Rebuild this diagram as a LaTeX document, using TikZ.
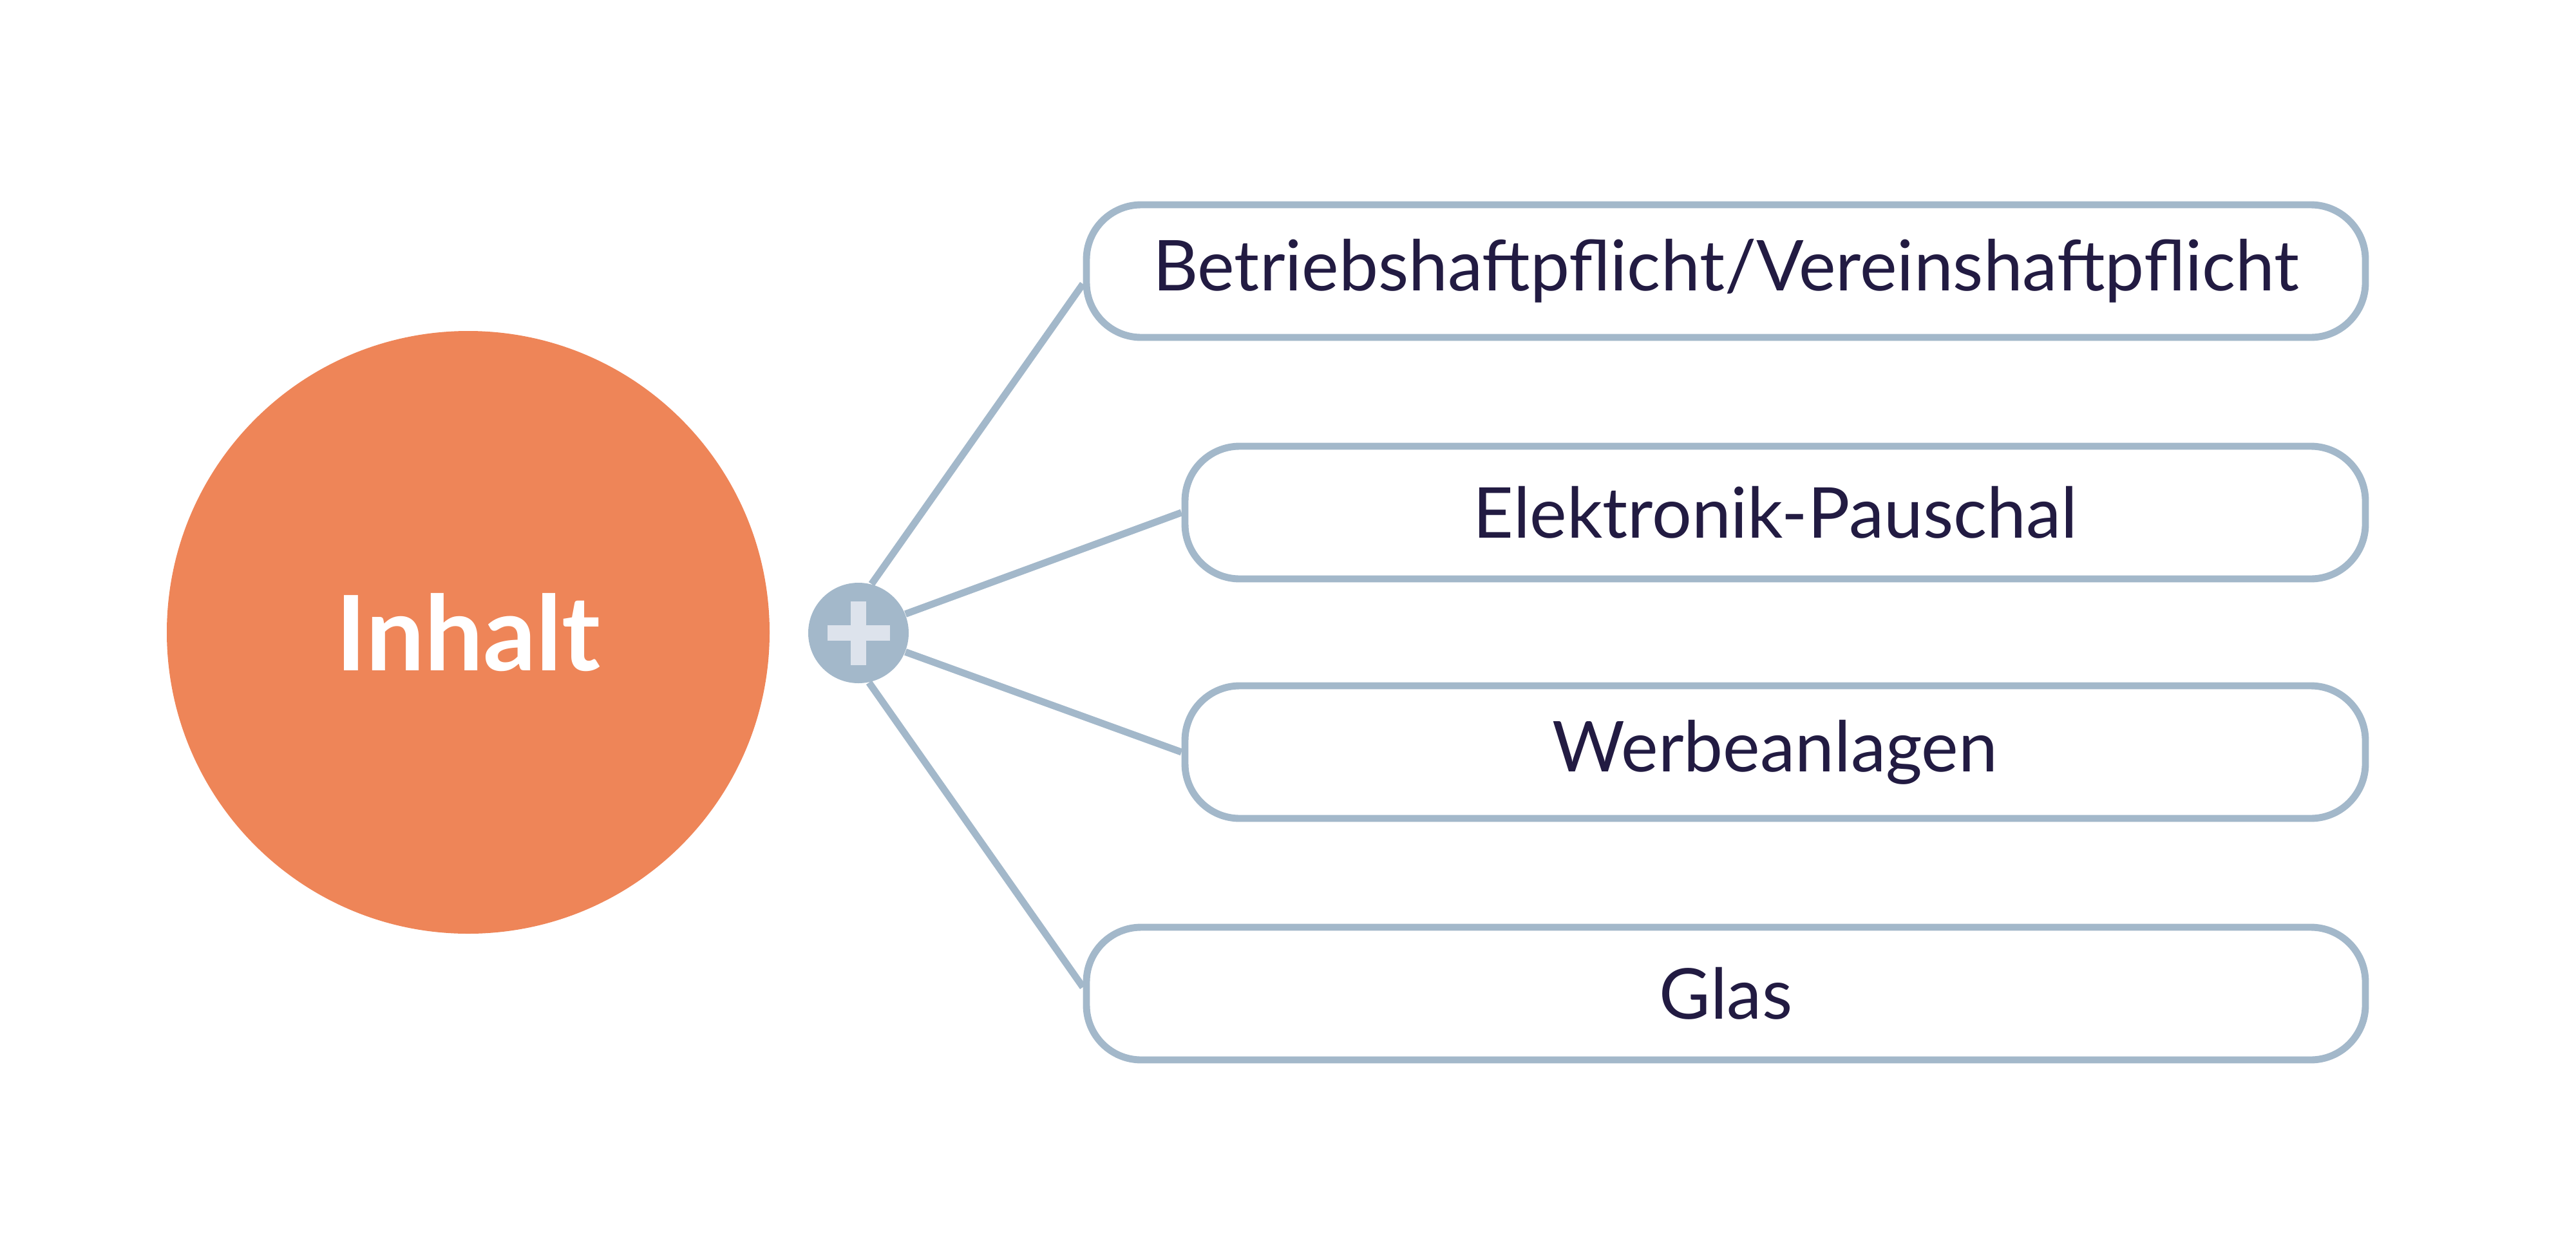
\documentclass[tikz,border=0pt]{standalone}
\usepackage{fontspec}
\setmainfont{Lato}
\definecolor{orangefill}{HTML}{EE8558}
\definecolor{greyblue}{HTML}{A3B8CA}
\definecolor{crosscol}{HTML}{DDE3EC}
\definecolor{navytext}{HTML}{221B42}

\begin{document}
\begin{tikzpicture}[
    box/.style={draw=greyblue, line width=3.1pt, fill=white, rounded corners=0.85cm,
      minimum height=2.06cm, inner sep=0pt, text=navytext, font=\fontsize{31}{36}\selectfont},
    conn/.style={draw=greyblue, line width=3.1pt},
    cross/.style={draw=crosscol, line width=0.24cm}]
  \useasboundingbox (0,0) rectangle (40,-19.48);
  \node[circle, fill=orangefill, minimum size=9.36cm, inner sep=0pt, text=white,
    font=\fontsize{46}{56}\selectfont\bfseries] (inhalt) at (7.27,-9.82) {Inhalt};
  \node[circle, fill=greyblue, minimum size=1.56cm, inner sep=0pt] (plus) at (13.33,-9.83) {};
  \draw[cross] ([xshift=-0.485cm]plus.center) -- ([xshift=0.485cm]plus.center);
  \draw[cross] ([yshift=-0.495cm]plus.center) -- ([yshift=0.495cm]plus.center);
  \node[box, minimum width=19.86cm] (haft) at (26.80,-4.21) {Betriebshaftpflicht/Vereinshaftpflicht};
  \node[box, minimum width=18.33cm] (elektro) at (27.565,-7.96) {Elektronik-Pauschal};
  \node[box, minimum width=18.33cm] (werbe) at (27.565,-11.68) {Werbeanlagen};
  \node[box, minimum width=19.86cm] (glas) at (26.80,-15.43) {Glas};
  \draw[conn] (plus.75) -- ([yshift=-0.2cm]haft.west);
  \draw[conn] (plus.22) -- (elektro.west);
  \draw[conn] (plus.-22) -- (werbe.west);
  \draw[conn] (plus.-78) -- ([yshift=0.1cm]glas.west);
\end{tikzpicture}
\end{document}
